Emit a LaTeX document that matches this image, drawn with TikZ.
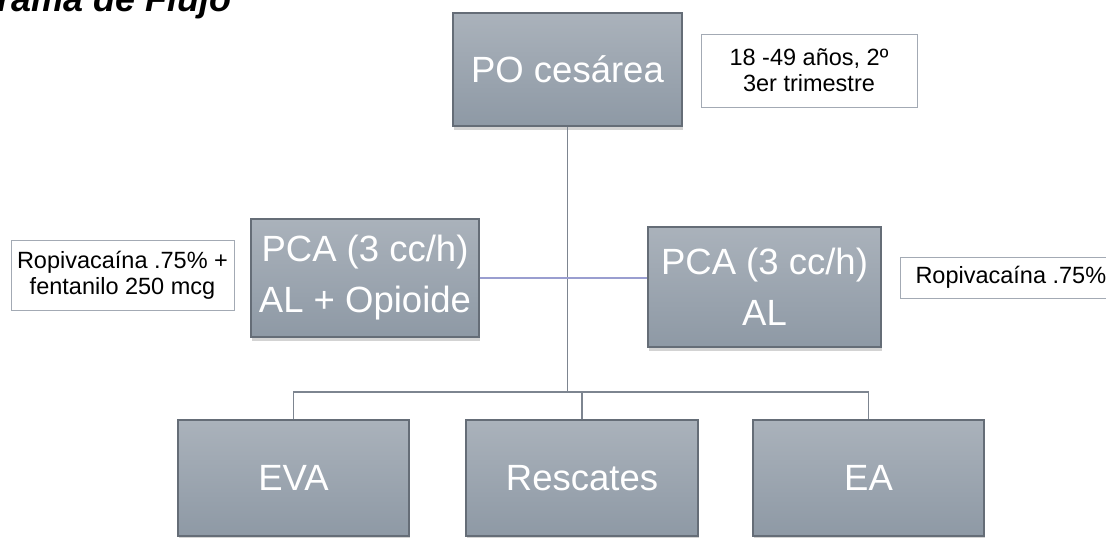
\documentclass[tikz,border=0pt]{standalone}
\usepackage{fontspec}
\setmainfont{Liberation Sans}
\usetikzlibrary{shadows}

\definecolor{boxtop}{HTML}{AAB2BB}
\definecolor{boxbot}{HTML}{8E99A5}
\definecolor{boxedge}{HTML}{656D77}
\definecolor{linkgray}{HTML}{7D8590}
\definecolor{notegray}{HTML}{A3AAB4}

\begin{document}
\begin{tikzpicture}[x=1pt,y=-1pt,
  stage/.style={rectangle,draw=boxedge,line width=1.2pt,top color=boxtop,bottom color=boxbot,
    text=white,align=center,inner sep=0pt,font=\fontsize{36.5}{51}\selectfont,
    drop shadow={shadow xshift=1pt,shadow yshift=-4pt,opacity=.35}},
  note/.style={rectangle,draw=notegray,line width=1pt,fill=white,align=center,
    inner sep=0pt,font=\fontsize{23.5}{26}\selectfont},
  link/.style={draw=linkgray,line width=1.6pt}]
\useasboundingbox (0,0) rectangle (1106,538);
% title, cut off at the page edge
\node [anchor=base east,font=\fontsize{36}{40}\selectfont\bfseries\itshape] (title) at (235,12) {Diagrama de Flujo};
% boxes
\node [stage,minimum width=229,minimum height=113] (po) at (567.5,69.5) {PO cesárea};
\node [note,minimum width=216,minimum height=73] (age) at (809,70.5) {18 -49 años, 2º\\3er trimestre};
\node [stage,minimum width=228,minimum height=118] (pcaL) at (365,278) {PCA (3 cc/h)\\AL + Opioide};
\node [stage,minimum width=233,minimum height=120] (pcaR) at (764.5,287) {PCA (3 cc/h)\\AL};
\node [note,minimum width=223,minimum height=70] (ropL) at (122.5,275) {Ropivacaína .75\% +\\fentanilo 250 mcg};
\node [note,anchor=west,inner xsep=15pt,minimum height=41] (ropR) at (900,277.5) {Ropivacaína .75\%};
\node [stage,minimum width=231,minimum height=116] (eva) at (293.5,478) {EVA};
\node [stage,minimum width=232,minimum height=116] (resc) at (582,478) {Rescates};
\node [stage,minimum width=231,minimum height=116] (ea) at (868.5,478) {EA};
\coordinate (bus) at (567.5,392);
% connectors
\begin{scope}[on background layer/.try]
\draw [link] (po.south) -- (bus);
\draw [link,draw=linkgray!70!blue!60] (pcaL.east) -- (pcaL.east -| pcaR.west);
\draw [link] (eva.north) |- (bus) -| (ea.north);
\draw [link] (resc.north) -- (resc.north |- bus);
\end{scope}
\end{tikzpicture}
\end{document}
